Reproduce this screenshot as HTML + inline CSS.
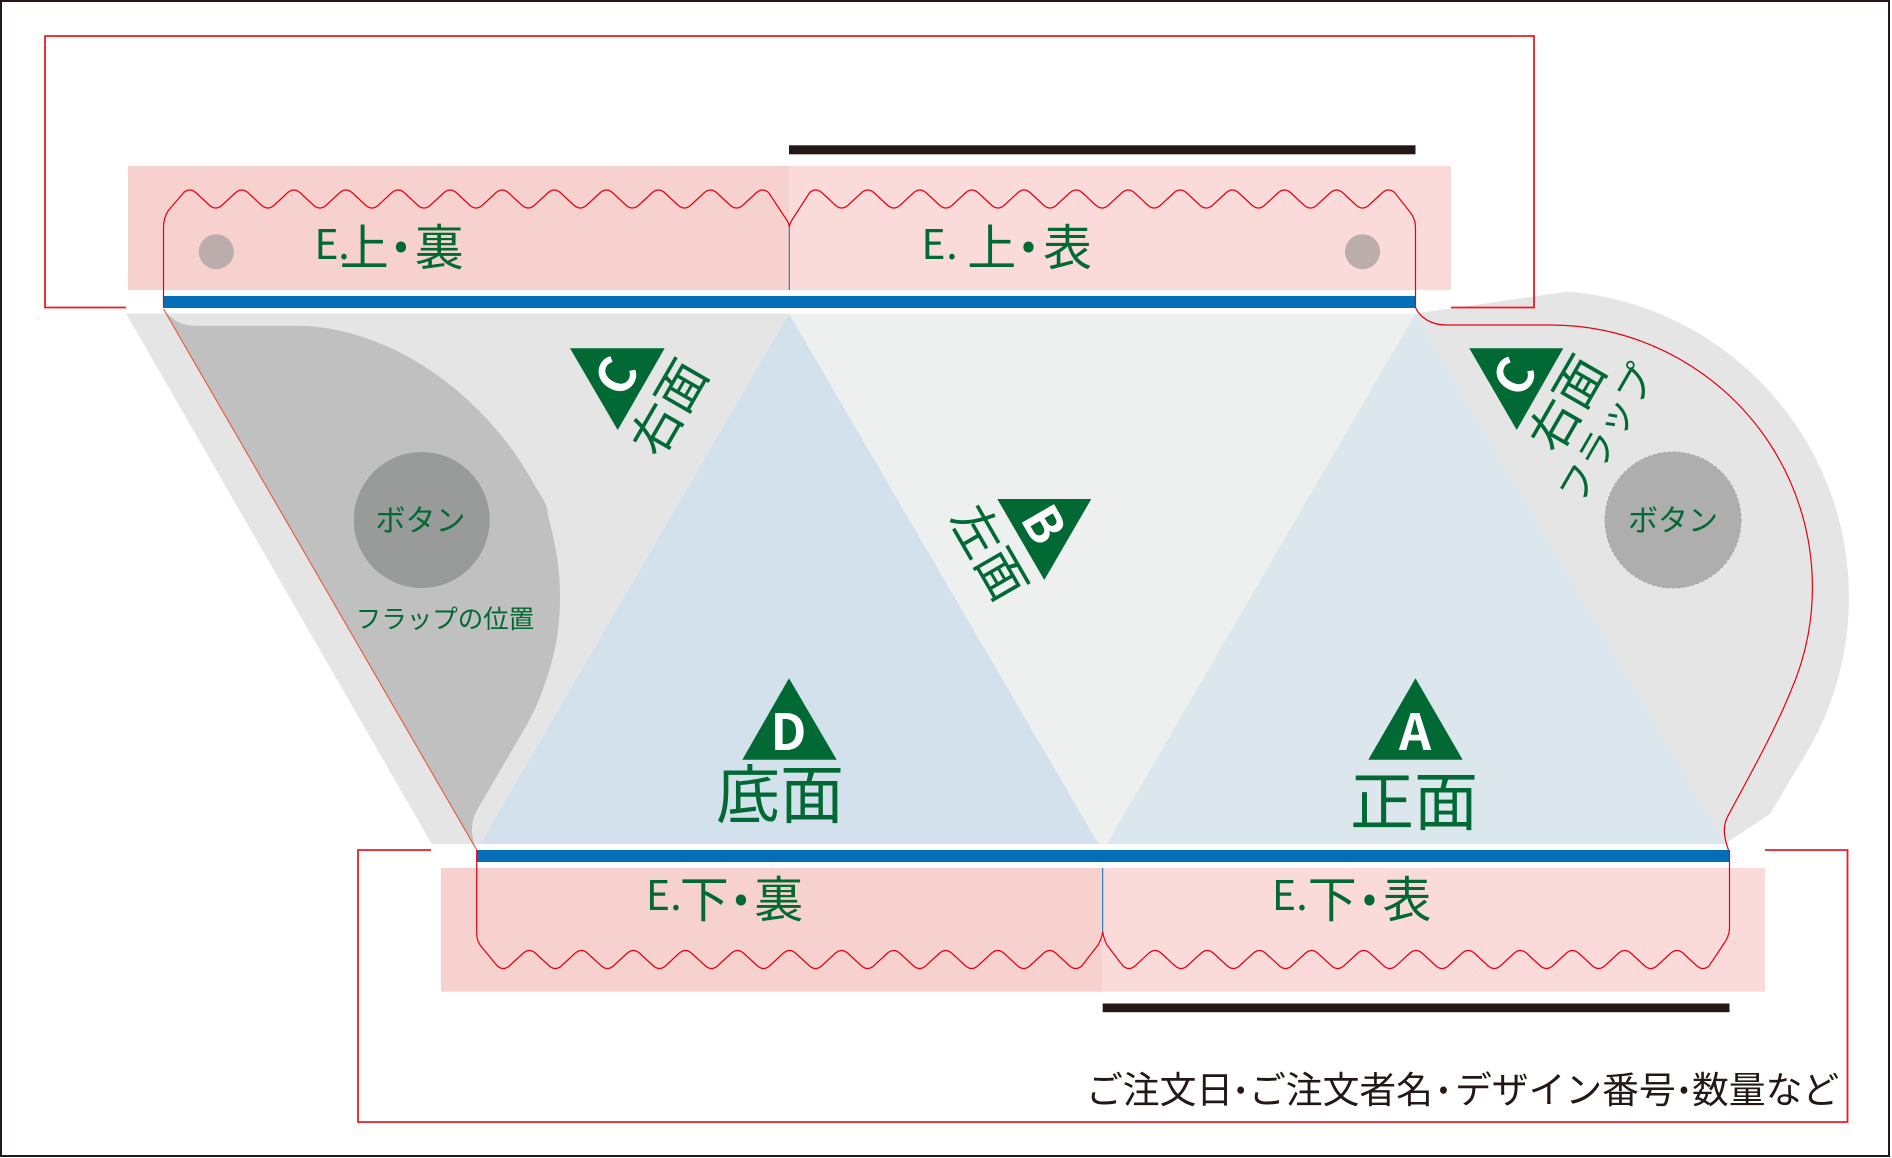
<!DOCTYPE html>
<html lang="ja">
<head>
<meta charset="utf-8">
<title>Diagram</title>
<style>
html,body{margin:0;padding:0;background:#fff;width:1892px;height:1158px;overflow:hidden}
svg{display:block}
text{font-family:"Noto Sans CJK JP","Liberation Sans",sans-serif;fill:#006934;text-anchor:middle}
.b{font-weight:700;fill:#fff;font-size:50px}
.k{font-size:49px}
.e{font-size:41px}
.n{font-size:36.8px;fill:#231815;text-anchor:start}
.d{font-size:27px;fill:#231815}
.r{fill:none;stroke:#e60012;stroke-width:1.2}
.o{fill:none;stroke:#ed1c24;stroke-width:1.8}
</style>
</head>
<body>
<svg width="1892" height="1158" viewBox="0 0 1892 1158" xmlns="http://www.w3.org/2000/svg">
<rect width="1892" height="1158" fill="#fff"/>
<rect x="1" y="1" width="1888" height="1155" fill="none" stroke="#231815" stroke-width="2"/>

<!-- pink glue areas -->
<rect x="128" y="166" width="661.3" height="124" fill="#f7d1cd"/>
<rect x="789.3" y="166" width="661.7" height="124" fill="#fadbd9"/>
<rect x="441" y="868" width="661.7" height="123.7" fill="#f7d1cd"/>
<rect x="1102.7" y="868" width="662.3" height="123.7" fill="#fadbd9"/>

<!-- grey flaps -->
<polygon points="126,313.5 789,313.5 480,844 431.7,844" fill="#e5e5e5"/>
<path d="M1415.5 313.5L1568 291.5A307 307 0 0 1 1810 747L1770 814L1725 843.7Z" fill="#e5e5e5"/>

<!-- panels -->
<polygon points="789,313.5 1098.7,844 480,844" fill="#d2e1ec"/>
<polygon points="789,313.5 1415.5,313.5 1106.8,844 1098.7,844" fill="#eef0ef"/>
<polygon points="1415.5,313.5 1725.5,844 1106.8,844" fill="#dce6ed"/>

<!-- left flap position -->
<path d="M163.5 309C170 318 180 325.7 195 325.7L296.7 325.7C383 325.7 483 388 536.7 489C545 501 548 508 548 516C556 545 560 570 560 596C560 625 556 648 550 668C543 692 535 710 526.7 725L476.7 810.7C470 822 471 838 476.7 850Z" fill="#c0c0c0"/>
<circle cx="421.7" cy="520" r="68" fill="#999b9a"/>
<circle cx="1673" cy="520" r="68" fill="#aeaeae" stroke="#a6a6a6" stroke-width="1" stroke-dasharray="3 2"/>

<!-- small circles -->
<circle cx="216.3" cy="251.7" r="17.5" fill="#bbadab"/>
<circle cx="1362.5" cy="251.7" r="17.5" fill="#bbadab"/>

<!-- bars -->
<rect x="789" y="145.3" width="626.5" height="9" fill="#231815"/>
<rect x="1102.7" y="1003.5" width="626.8" height="8.7" fill="#231815"/>
<rect x="163.5" y="296" width="1252" height="12" fill="#036eb8"/>
<rect x="476.7" y="850" width="1252.8" height="12" fill="#036eb8"/>

<!-- blue fold lines -->
<line x1="789.3" y1="226" x2="789.3" y2="290" stroke="#036eb8" stroke-width="1"/>
<line x1="1102.7" y1="868" x2="1102.7" y2="932" stroke="#036eb8" stroke-width="1"/>

<!-- outer red guide rects -->
<polyline class="o" points="126,307.5 45,307.5 45,36 1534,36 1534,307.5 1451,307.5"/>
<polyline class="o" points="431,850 358,850 358,1122 1847.5,1122 1847.5,850 1765,850"/>

<!-- cut lines -->
<path class="r" d="M163.5 307.5V228Q163.5 218 168 211L183.7 192.5
q6 -5 12 0l14.04 13q6 5 12 0l14.04 -13
q6 -5 12 0l14.04 13q6 5 12 0l14.04 -13
q6 -5 12 0l14.04 13q6 5 12 0l14.04 -13
q6 -5 12 0l14.04 13q6 5 12 0l14.04 -13
q6 -5 12 0l14.04 13q6 5 12 0l14.04 -13
q6 -5 12 0l14.04 13q6 5 12 0l14.04 -13
q6 -5 12 0l14.04 13q6 5 12 0l14.04 -13
q6 -5 12 0l14.04 13q6 5 12 0l14.04 -13
q6 -5 12 0l14.04 13q6 5 12 0l14.04 -13
q6 -5 12 0l14.04 13q6 5 12 0l14.04 -13
q6 -5 12 0l14.04 13q6 5 12 0l14.04 -13
q6 -5 12 0L786 219Q789 223 789.3 226.7"/>
<path class="r" d="M789.3 226.7Q790 223 792.6 219L809.7 192.5
q6 -5 12 0l14.04 13q6 5 12 0l14.04 -13
q6 -5 12 0l14.04 13q6 5 12 0l14.04 -13
q6 -5 12 0l14.04 13q6 5 12 0l14.04 -13
q6 -5 12 0l14.04 13q6 5 12 0l14.04 -13
q6 -5 12 0l14.04 13q6 5 12 0l14.04 -13
q6 -5 12 0l14.04 13q6 5 12 0l14.04 -13
q6 -5 12 0l14.04 13q6 5 12 0l14.04 -13
q6 -5 12 0l14.04 13q6 5 12 0l14.04 -13
q6 -5 12 0l14.04 13q6 5 12 0l14.04 -13
q6 -5 12 0l14.04 13q6 5 12 0l14.04 -13
q6 -5 12 0l14.04 13q6 5 12 0l14.04 -13
q6 -5 12 0L1410 212Q1415.5 219 1415.5 228V307.5"/>
<path class="r" d="M476.7 850V933Q476.7 940 480 945L497.3 966
q6 5 12 0l14.02 -13q6 -5 12 0l14.02 13
q6 5 12 0l14.02 -13q6 -5 12 0l14.02 13
q6 5 12 0l14.02 -13q6 -5 12 0l14.02 13
q6 5 12 0l14.02 -13q6 -5 12 0l14.02 13
q6 5 12 0l14.02 -13q6 -5 12 0l14.02 13
q6 5 12 0l14.02 -13q6 -5 12 0l14.02 13
q6 5 12 0l14.02 -13q6 -5 12 0l14.02 13
q6 5 12 0l14.02 -13q6 -5 12 0l14.02 13
q6 5 12 0l14.02 -13q6 -5 12 0l14.02 13
q6 5 12 0l14.02 -13q6 -5 12 0l14.02 13
q6 5 12 0l14.02 -13q6 -5 12 0l14.02 13
q6 5 12 0L1098 945Q1102 938 1102.7 931.7"/>
<path class="r" d="M1102.7 931.7Q1103.5 938 1107 945L1123 966
q6 5 12 0l14.09 -13q6 -5 12 0l14.09 13
q6 5 12 0l14.09 -13q6 -5 12 0l14.09 13
q6 5 12 0l14.09 -13q6 -5 12 0l14.09 13
q6 5 12 0l14.09 -13q6 -5 12 0l14.09 13
q6 5 12 0l14.09 -13q6 -5 12 0l14.09 13
q6 5 12 0l14.09 -13q6 -5 12 0l14.09 13
q6 5 12 0l14.09 -13q6 -5 12 0l14.09 13
q6 5 12 0l14.09 -13q6 -5 12 0l14.09 13
q6 5 12 0l14.09 -13q6 -5 12 0l14.09 13
q6 5 12 0l14.09 -13q6 -5 12 0l14.09 13
q6 5 12 0l14.09 -13q6 -5 12 0l14.09 13
q6 5 12 0L1723 945Q1729.5 936 1729.5 928V850"/>
<path class="r" d="M1415.5 307.5C1420 318 1432 325 1446 325L1550 325A262 262 0 0 1 1790 693C1775 730 1750 775 1728 815.8C1723 825 1723 835 1728.5 850"/>
<line x1="163.5" y1="309" x2="476.7" y2="850" stroke="#e8502a" stroke-width="1"/>

<!-- triangles -->
<polygon points="570,348.3 664.7,348.3 617.7,430" fill="#006934"/>
<polygon points="1469.3,348.3 1563.3,348.3 1516.7,430" fill="#006934"/>
<polygon points="997.3,499 1091.3,499 1044.3,580" fill="#006934"/>
<polygon points="789,678.3 742.3,759.7 836.7,759.7" fill="#006934"/>
<polygon points="1415.5,678.3 1368.3,759.7 1462.7,759.7" fill="#006934"/>

<!-- triangle letters -->
<text class="b" transform="translate(616 376) rotate(-60)" dy="0.366em">C</text>
<text class="b" transform="translate(1514 376.5) rotate(-60)" dy="0.366em">C</text>
<text class="b" transform="translate(1044 524.3) rotate(60)" dy="0.366em">B</text>
<text class="b" x="788.5" y="750">D</text>
<text class="b" x="1415" y="750">A</text>

<!-- big labels -->
<text x="780" y="818" font-size="64">底面</text>
<text x="1414" y="825" font-size="64">正面</text>
<text transform="translate(668 407) rotate(-60)" font-size="50" dy="0.38em">右面</text>
<text transform="translate(1566 403) rotate(-60)" font-size="50" dy="0.38em">右面</text>
<text transform="translate(990 552) rotate(60)" font-size="50" dy="0.38em">左面</text>
<text transform="translate(1606 433) rotate(-60)" font-size="38" dy="0.38em">フラップ</text>

<text x="420.5" y="531" font-size="30">ボタン</text>
<text x="1673" y="531" font-size="30">ボタン</text>
<text x="445" y="628" font-size="25.5">フラップの位置</text>

<!-- top labels -->
<text class="e" x="326.5" y="259">E</text>
<text class="e" x="344" y="259">.</text>
<text class="k" x="364.2" y="265">上</text>
<text class="e" x="401" y="259">•</text>
<text class="k" x="439.3" y="265">裏</text>

<text class="e" x="933.5" y="259">E</text>
<text class="e" x="952" y="259">.</text>
<text class="k" x="991.7" y="265">上</text>
<text class="e" x="1028.5" y="259">•</text>
<text class="k" x="1067.5" y="265">表</text>

<!-- bottom labels -->
<text class="e" x="658" y="910">E</text>
<text class="e" x="676" y="910">.</text>
<text class="k" x="704.3" y="917">下</text>
<text class="e" x="741" y="912">•</text>
<text class="k" x="778.7" y="917">裏</text>

<text class="e" x="1284" y="910">E</text>
<text class="e" x="1302" y="910">.</text>
<text class="k" x="1332.3" y="917">下</text>
<text class="e" x="1369.5" y="912">•</text>
<text class="k" x="1407" y="917">表</text>

<!-- note -->
<text class="n" x="1086" y="1103">ご注文日</text>
<text class="d" x="1240.7" y="1098">•</text>
<text class="n" x="1249" y="1103">ご注文者名</text>
<text class="d" x="1443.5" y="1098">•</text>
<text class="n" x="1455" y="1103">デザイン番号</text>
<text class="d" x="1684" y="1098">•</text>
<text class="n" x="1692" y="1103">数量など</text>
</svg>
</body>
</html>
